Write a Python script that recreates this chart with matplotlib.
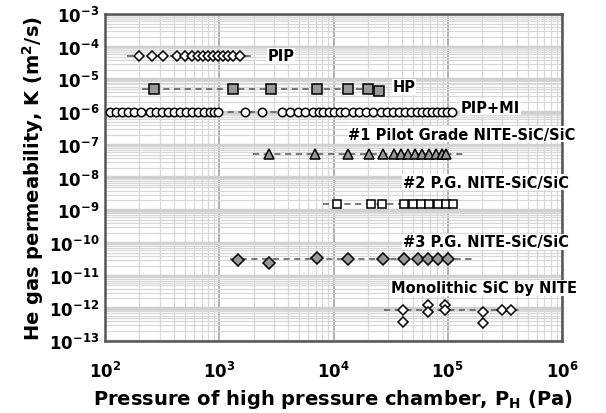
import numpy as np
import matplotlib.pyplot as plt
from matplotlib.ticker import LogLocator, FixedLocator, NullFormatter

# pressure (Pa) and permeability (m2/s)
pip_p = [199, 258, 323, 428, 503, 580, 655, 724, 801, 886, 980, 1084, 1200, 1327, 1528]
pip_k = [5.2e-5] * len(pip_p)

hp_p = [269, 1327, 2860, 7100, 13500, 19900, 24800]
hp_k = [5.1e-6, 5.1e-6, 5.1e-6, 5.1e-6, 5.1e-6, 5.1e-6, 4.4e-6]

pipmi_p = [110, 125, 141, 159, 180, 207, 248, 280, 316, 357, 403, 455, 514, 580,
           655, 738, 834, 904, 980, 1690, 2380, 3570, 4200, 4930, 5680, 6550,
           7390, 8170, 9040, 10000, 11500, 12700, 14700, 16600, 19100, 22000,
           25800, 29200, 33000, 37200, 42000, 47300, 53500, 59100, 65400,
           72400, 80100, 88600, 98000, 108000]
pipmi_k = [1.0e-6] * len(pipmi_p)

g1_p = [2740, 6950, 13500, 20300, 26900, 33600, 38700, 44600, 51400, 59100,
        68100, 78500, 88600, 95900]
g1_k = [5.2e-8] * len(g1_p)

g2_p = [10800, 21100, 26400, 41100, 49300, 57900, 68100, 81700, 95900, 111000]
g2_k = [1.55e-9] * len(g2_p)

g3_p = [1468, 2740, 7240, 13500, 26900, 41100, 54600, 66800, 81700, 99800]
g3_k = [3.0e-11, 2.5e-11, 3.5e-11, 3.3e-11, 3.3e-11, 3.3e-11, 3.3e-11,
        3.3e-11, 3.3e-11, 3.3e-11]

mono_p = [40300, 40300, 66800, 66800, 94200, 94200, 203000, 203000, 298000, 357000]
mono_k = [8.9e-13, 3.8e-13, 1.26e-12, 7.7e-13, 1.26e-12, 8.9e-13, 7.7e-13,
          3.5e-13, 8.9e-13, 8.9e-13]

# dashed guide line for each series: (p_start, p_end, K)
guides = [(156, 1987, 5.2e-5), (211, 24800, 5.1e-6), (110, 108000, 1.0e-6),
          (1987, 138000, 5.2e-8), (8170, 130000, 1.55e-9),
          (1250, 176000, 3.2e-11), (27500, 420000, 8.9e-13)]

plt.rcParams['font.family'] = 'DejaVu Sans'
plt.rcParams['font.weight'] = 'bold'

fig = plt.figure(figsize=(6.06, 4.14), dpi=100)
ax = fig.add_axes([0.1733, 0.1739, 0.7541, 0.7899])

ax.set_xscale('log')
ax.set_yscale('log')
ax.set_xlim(1e2, 1e6)
ax.set_ylim(1e-13, 1e-3)

# grid
ax.xaxis.set_major_locator(LogLocator(base=10, numticks=10))
ax.xaxis.set_minor_locator(LogLocator(base=10, subs=np.arange(2, 10), numticks=20))
ax.yaxis.set_major_locator(FixedLocator([10.0**e for e in range(-13, -2)]))
ax.yaxis.set_minor_locator(LogLocator(base=10, subs=np.arange(2, 10), numticks=40))
ax.xaxis.set_minor_formatter(NullFormatter())
ax.yaxis.set_minor_formatter(NullFormatter())
ax.grid(which='minor', color='#d8d8d8', lw=0.9)
ax.grid(which='major', axis='x', color='#9a9a9a', lw=1.1)
ax.grid(which='major', axis='y', color='#d0d0d0', lw=2.5)
ax.set_axisbelow(True)

for p0, p1, k in guides:
    ax.plot([p0, p1], [k, k], ls=(0, (4, 3)), color='#555555', lw=1.1, zorder=2)

mk = dict(ls='none', mec='black', mew=1.1, zorder=3)
ax.plot(pip_p, pip_k, marker='D', ms=5.5, mfc='white', **mk)
ax.plot(hp_p, hp_k, marker='s', ms=7, mfc='#999999', **mk)
ax.plot(pipmi_p, pipmi_k, marker='o', ms=6, mfc='white', **mk)
ax.plot(g1_p, g1_k, marker='^', ms=7, mfc='#999999', **mk)
ax.plot(g2_p, g2_k, marker='s', ms=5.5, mfc='white', **mk)
ax.plot(g3_p, g3_k, marker='D', ms=6, mfc='#999999', **mk)
ax.plot(mono_p, mono_k, marker='D', ms=5, mfc='white', **mk)

box = dict(facecolor='white', edgecolor='none', pad=0.5)
lab = dict(fontsize=10.5, fontweight='bold', va='center', ha='left', bbox=box, zorder=4)
ax.text(2640, 5.2e-5, 'PIP', **lab)
ax.text(33000, 5.9e-6, 'HP', **lab)
ax.text(130000, 1.43e-6, 'PIP+MI', **lab)
ax.text(13500, 2.1e-7, '#1 Pilot Grade NITE-SiC/SiC', **lab)
ax.text(40300, 7.2e-9, '#2 P.G. NITE-SiC/SiC', **lab)
ax.text(40300, 1.07e-10, '#3 P.G. NITE-SiC/SiC', **lab)
ax.text(31600, 4.2e-12, 'Monolithic SiC by NITE', **lab)

for s in ax.spines.values():
    s.set_color('#555555')
    s.set_linewidth(1.8)

ax.tick_params(which='both', length=0, labelsize=12, pad=4)
ax.tick_params(axis='x', pad=14)
for t in ax.get_xticklabels() + ax.get_yticklabels():
    t.set_fontweight('bold')

ax.set_xlabel('Pressure of high pressure chamber, P$_\\mathbf{H}$ (Pa)',
              fontsize=14, fontweight='bold', labelpad=5)
ax.set_ylabel('He gas permeability, K (m$^\\mathbf{2}$/s)',
              fontsize=14, fontweight='bold', labelpad=2)

fig.savefig('out.png', dpi=100)
